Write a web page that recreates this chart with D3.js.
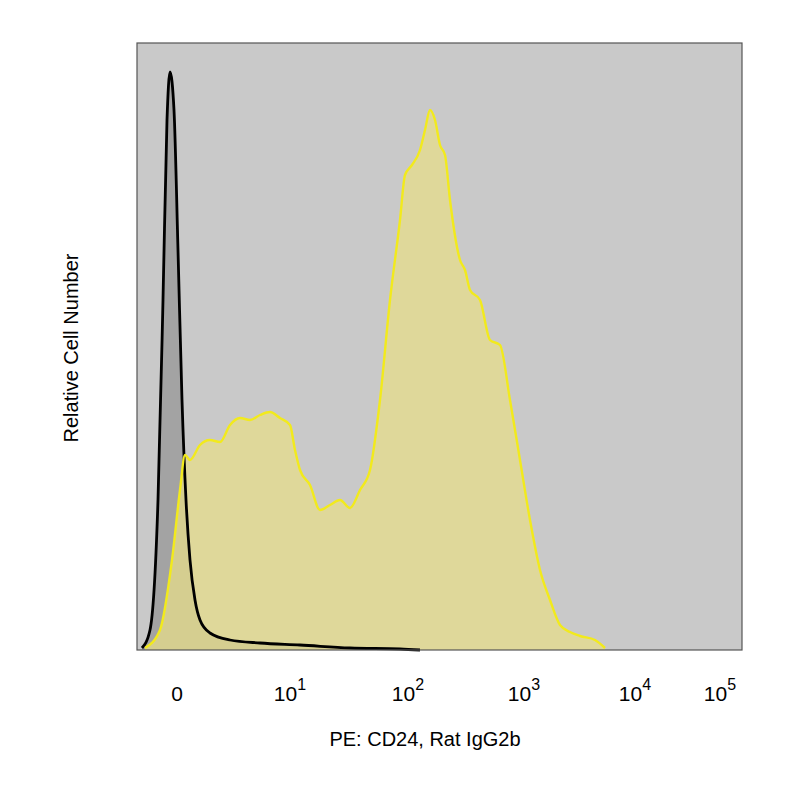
<!DOCTYPE html>
<html>
<head>
<meta charset="utf-8">
<script src="https://cdn.jsdelivr.net/npm/d3@7"></script>
<style>
  body { margin: 0; background: #fff; }
  text { font-family: "Liberation Sans", Arial, sans-serif; fill: #000; }
</style>
</head>
<body>
<svg id="chart"></svg>
<script>
// display channel (0-605) and relative count (0-607)
var isoChannel = [5, 13, 21, 26, 30, 33, 37, 41, 45, 49, 53, 58, 63, 73, 93, 123, 163, 213, 263, 283];
var isoCount = [2, 20, 150, 350, 530, 578, 540, 400, 250, 150, 90, 50, 30, 17, 10, 7, 5, 2, 1, 0];

var cd24Channel = [8, 23, 35, 43, 48, 53, 63, 73, 83, 93, 103, 113, 123, 133, 143, 153, 158, 163, 173, 183, 193, 203, 213, 223, 233, 243, 253, 263, 268, 275, 283, 288, 293, 298, 303, 308, 313, 323, 328, 333, 343, 353, 363, 373, 383, 393, 403, 413, 423, 433, 443, 458, 468];
var cd24Count = [2, 20, 90, 160, 195, 190, 205, 210, 208, 225, 232, 230, 235, 238, 232, 225, 200, 180, 165, 140, 145, 150, 142, 160, 180, 250, 350, 430, 475, 485, 500, 520, 540, 530, 505, 495, 450, 390, 380, 360, 350, 310, 305, 250, 190, 130, 80, 50, 25, 18, 14, 10, 2];

var tickChannel = [40, 153, 271, 387, 498, 583];
var tickExp = ["", "1", "2", "3", "4", "5"];

var screen = { width: 800, height: 800 };
var margins = { top: 43, left: 137, right: 58, bottom: 150 };
var graph = {
  width: screen.width - margins.left - margins.right,
  height: screen.height - margins.top - margins.bottom
};

var svg = d3.select("#chart").attr("width", screen.width).attr("height", screen.height);
var g = svg.append("g").attr("transform", "translate(" + margins.left + "," + margins.top + ")");

var xScale = d3.scaleLinear().domain([0, 605]).range([0, graph.width]);
var yScale = d3.scaleLinear().domain([0, 607]).range([graph.height, 0]);

g.append("rect").attr("width", graph.width).attr("height", graph.height)
  .attr("fill", "#c9c9c9");

var area = d3.area().x(function (d) { return xScale(d[0]); })
  .y0(yScale(0)).y1(function (d) { return yScale(d[1]); }).curve(d3.curveMonotoneX);
var line = d3.line().x(function (d) { return xScale(d[0]); })
  .y(function (d) { return yScale(d[1]); }).curve(d3.curveMonotoneX);

var iso = isoChannel.map(function (c, i) { return [c, isoCount[i]]; });
var cd24 = cd24Channel.map(function (c, i) { return [c, cd24Count[i]]; });

g.append("path").datum(iso).attr("d", area).attr("fill", "#9a9a9a").attr("opacity", 0.8);
g.append("path").datum(cd24).attr("d", area).attr("fill", "#e6dc8a").attr("opacity", 0.75);
g.append("path").datum(iso).attr("d", line).attr("fill", "none").attr("stroke", "#000").attr("stroke-width", 2.8);
g.append("path").datum(cd24).attr("d", line).attr("fill", "none").attr("stroke", "#f2ea1c").attr("stroke-width", 2.4);

g.append("rect").attr("width", graph.width).attr("height", graph.height)
  .attr("fill", "none").attr("stroke", "#555").attr("stroke-width", 1.2);

var xAxis = d3.axisBottom(xScale).tickValues(tickChannel).tickSize(0).tickFormat("");
var ax = g.append("g").attr("transform", "translate(0," + graph.height + ")").call(xAxis);
ax.select(".domain").remove();

tickChannel.forEach(function (c, i) {
  var t = g.append("text").attr("x", xScale(c)).attr("y", graph.height + 51)
    .attr("text-anchor", "middle").style("font-size", "21px");
  if (tickExp[i] === "") { t.text("0"); }
  else {
    t.append("tspan").text("10");
    t.append("tspan").attr("dy", -11).style("font-size", "16px").text(tickExp[i]);
  }
});

svg.append("text").attr("x", 425).attr("y", 746).attr("text-anchor", "middle")
  .style("font-size", "20px").text("PE: CD24, Rat IgG2b");
svg.append("text").attr("transform", "translate(78,348) rotate(-90)")
  .attr("text-anchor", "middle").style("font-size", "20px").text("Relative Cell Number");
</script>
</body>
</html>
